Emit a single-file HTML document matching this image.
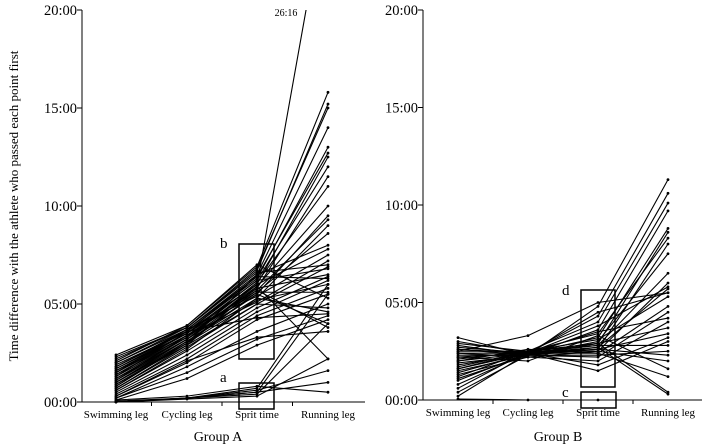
<!DOCTYPE html>
<html><head><meta charset="utf-8"><style>
html,body{margin:0;padding:0;background:#fff;width:708px;height:448px;overflow:hidden}
svg{display:block;font-family:"Liberation Serif",serif}
</style></head><body>
<svg id="c" width="708" height="448"></svg>
<script>
const categories=["Swimming leg","Cycling leg","Sprit time","Running leg"];
const yTicks=[0,5,10,15,20];
const yTickLabels=["00:00","05:00","10:00","15:00","20:00"];
const groupA=[
[2.4,3.9,6.9,15.8],[2.3,3.8,6.7,15.2],[2.2,3.8,6.8,15.0],[2.0,3.7,6.5,14.0],[1.9,3.6,6.3,13.0],
[1.8,3.6,6.4,12.7],[1.7,3.5,6.0,12.5],[1.6,3.5,6.2,12.0],[1.5,3.4,5.8,11.5],[1.4,3.3,6.1,11.0],
[1.3,3.3,5.9,10.0],[1.2,3.2,5.5,9.5],[1.1,3.2,5.7,9.3],[1.0,3.1,5.3,9.0],[0.9,3.0,5.6,8.6],
[0.8,3.0,6.5,8.0],[1.3,3.6,6.0,7.8],[1.5,3.7,5.4,7.5],[1.1,3.4,5.1,7.2],[2.0,3.8,6.6,7.0],
[0.7,2.8,5.0,6.9],[1.6,3.5,6.2,6.8],[1.2,3.3,5.8,6.5],[0.6,2.6,4.8,6.4],[1.8,3.7,6.4,6.3],
[0.5,2.4,4.6,6.2],[1.0,3.0,5.2,6.0],[0.4,2.2,4.4,5.8],[1.4,3.4,5.6,5.6],[0.3,2.0,4.2,5.5],
[2.1,3.9,7.0,5.3],[0.2,1.8,3.6,5.0],[0.9,2.9,5.0,4.8],[0.6,2.7,5.3,4.6],[1.7,3.6,4.3,4.5],
[0.2,1.5,3.2,4.4],[0.1,1.2,2.9,4.2],[0.8,3.1,5.5,4.0],[1.5,3.5,5.7,3.8],[0.3,2.1,3.3,3.6],
[1.0,3.2,6.0,26.27],[0.7,2.9,5.9,2.2],
[0.05,0.2,0.6,1.6],[0.0,0.2,0.5,1.0],[0.0,0.15,0.3,2.2],[0.1,0.3,0.8,0.5],
[0.0,0.2,0.7,6.0],[0.0,0.2,0.5,5.5],[0.0,0.2,0.4,4.0]];
const groupB=[
[3.2,2.3,4.8,11.3],[3.0,2.4,4.3,10.6],[2.9,2.5,4.0,10.1],[2.8,2.3,3.6,9.7],[2.7,2.4,3.2,8.8],
[2.6,2.3,2.9,8.6],[2.5,2.5,3.4,8.3],[2.4,2.4,2.6,8.0],[2.3,2.3,3.0,7.5],[2.2,2.4,2.8,6.5],
[2.1,2.5,2.5,6.0],[2.0,2.4,3.8,5.8],[1.9,2.3,2.7,5.7],[1.8,2.4,4.5,5.5],[1.7,2.5,3.1,5.3],
[1.6,2.4,2.4,4.8],[1.5,2.3,2.2,4.5],[1.4,2.4,3.5,4.2],[1.3,2.2,2.0,4.0],[1.2,2.5,2.9,3.7],
[1.1,2.3,2.6,3.4],[1.0,2.4,1.8,3.2],[0.8,2.4,1.5,3.0],[0.6,2.5,2.8,2.8],[0.4,2.3,2.3,2.5],
[0.2,2.4,2.6,2.3],[2.5,3.3,5.0,5.5],[2.2,2.0,3.3,1.6],[2.0,2.6,2.4,1.2],[1.6,2.5,2.9,0.4],
[2.6,2.4,2.7,0.3],[2.4,2.2,2.5,2.0],[0.05,0.0,0.0,null]];
const NS="http://www.w3.org/2000/svg";
const svg=document.getElementById('c');
function mk(t,a,p){const e=document.createElementNS(NS,t);for(const k in a)e.setAttribute(k,a[k]);(p||svg).appendChild(e);return e;}
const panels=[
 {name:"group-a",data:groupA,ax:82,xEnd:365,xs:[116,187,257,328],y0:402,y20:10,title:"Group A",tx:218},
 {name:"group-b",data:groupB,ax:423,xEnd:702,xs:[458,528,598,668],y0:400,y20:10,title:"Group B",tx:558}];
panels.forEach(P=>{
 const g=mk('g',{});
 
 
 const ys=v=>P.y0-(v/20)*(P.y0-P.y20);
 const xs=i=>P.xs[i];
 const clip=mk('clipPath',{id:'cl'+P.name},g);
 mk('rect',{x:P.ax,y:P.y20,width:P.xEnd-P.ax,height:P.y0-P.y20+2},clip);
 const lg=mk('g',{'clip-path':'url(#cl'+P.name+')'},g);
 P.data.forEach((row,ri)=>{
  const pts=[];row.forEach((v,i)=>{if(v!==null)pts.push([xs(i),ys(v)]);});
  const pl=mk('polyline',{points:pts.map(p=>p.join(',')).join(' '),fill:'none',stroke:'#000','stroke-width':1.1},lg);
  
  
  pts.forEach(p=>{const d=mk('circle',{cx:p[0],cy:p[1],r:1.4,fill:'#000'},lg);
   
   });
 });
 const ya=mk('line',{x1:P.ax,y1:P.y20,x2:P.ax,y2:P.y0,stroke:'#000','stroke-width':1},g);
 
 
 const xa=mk('line',{x1:P.ax,y1:P.y0,x2:P.xEnd,y2:P.y0,stroke:'#000','stroke-width':1},g);
 
 
 yTicks.forEach((t,i)=>{
  mk('line',{x1:P.ax-5,y1:ys(t),x2:P.ax,y2:ys(t),stroke:'#000'},g);
  const tx=mk('text',{x:P.ax-5,y:ys(t)+5,'text-anchor':'end','font-size':14.5},g);
  tx.textContent=yTickLabels[i];
  
  
 });
 for(let i=0;i<3;i++){const m=(P.xs[i]+P.xs[i+1])/2;mk('line',{x1:m,y1:P.y0,x2:m,y2:P.y0+4,stroke:'#000'},g);}
 categories.forEach((c,i)=>{
  const t=mk('text',{x:xs(i),y:P.y0+16,'text-anchor':'middle','font-size':11},g);
  t.textContent=c;
  
  
 });
 const gt=mk('text',{x:P.tx,y:441,'text-anchor':'middle','font-size':14},g);
 gt.textContent=P.title;
 
 
});
function box(x,y,w,h,lbl,lx,ly){
 const r=mk('rect',{x:x,y:y,width:w,height:h,fill:'none',stroke:'#000','stroke-width':1.5});
 
 
 const t=mk('text',{x:lx,y:ly,'font-size':15});
 t.textContent=lbl;
 
 
}
box(239,244,35,115,'b',220,248);
box(239,383,35,26,'a',220,382);
box(581,290,34,97,'d',562,295);
box(581,392,35,16,'c',562,397);
const lab=mk('text',{x:286,y:16,'font-size':10,'text-anchor':'middle'});
lab.textContent='26:16';


const yt=mk('text',{x:0,y:0,'font-size':13,'text-anchor':'middle',transform:'translate(18,206) rotate(-90)'});
yt.textContent='Time difference with the athlete who passed each point first';


</script>
</body></html>
